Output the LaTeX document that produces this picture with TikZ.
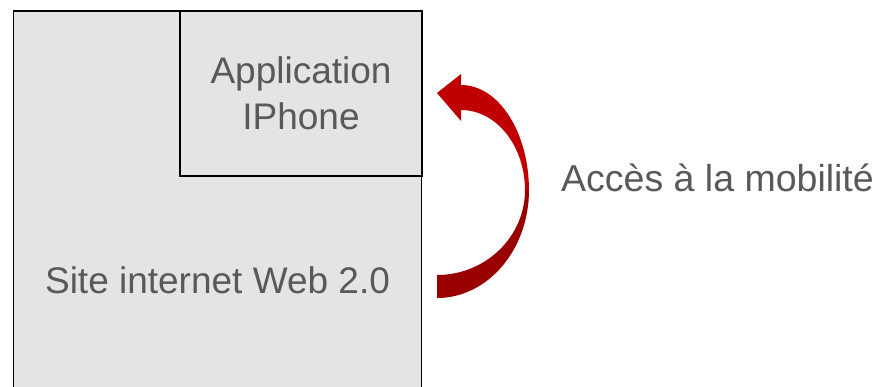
\documentclass[tikz,border=0pt]{standalone}
\usepackage{fontspec}
\setmainfont{Liberation Sans}
\definecolor{boxfill}{HTML}{E4E4E4}
\definecolor{txtgray}{HTML}{595959}
\definecolor{arrowred}{HTML}{C00000}
\definecolor{arrowdark}{HTML}{990000}
\tikzset{
  panel/.style={draw=black, line width=1.8pt, fill=boxfill, rectangle, inner sep=0pt,
    text=txtgray, font=\fontsize{37}{46}\selectfont, align=center},
  lbl/.style={text=txtgray, font=\fontsize{37.5}{46}\selectfont, inner sep=0pt}
}
\begin{document}
\begin{tikzpicture}[x=1pt,y=-1pt]
\useasboundingbox (0,0) rectangle (877,386);
\clip (0,0) rectangle (877,386);
\node[panel, minimum width=408pt, minimum height=538pt] (site) at (217.5,280) {Site internet Web 2.0};
\node[panel, minimum width=242pt, minimum height=165pt] (app) at (301,93.5) {Application\\IPhone};
% curved arrow: lower part
\fill[arrowdark] (529,190) .. controls (529,249.6) and (487.8,298) .. (437,298)
  -- (437,275) .. controls (485.6,275) and (525,236.9) .. (525,190) -- cycle;
% curved arrow: upper part with head
\fill[arrowred] (529,190.5) .. controls (529,132) and (498.5,85) .. (461,85)
  -- (461,74) -- (437,93) -- (461,121) -- (461,110)
  .. controls (496.3,110) and (525,145.8) .. (525,190.5) -- cycle;
\node[lbl, anchor=base] (mob) at (717.5,191) {Accès à la mobilité};
\end{tikzpicture}
\end{document}
